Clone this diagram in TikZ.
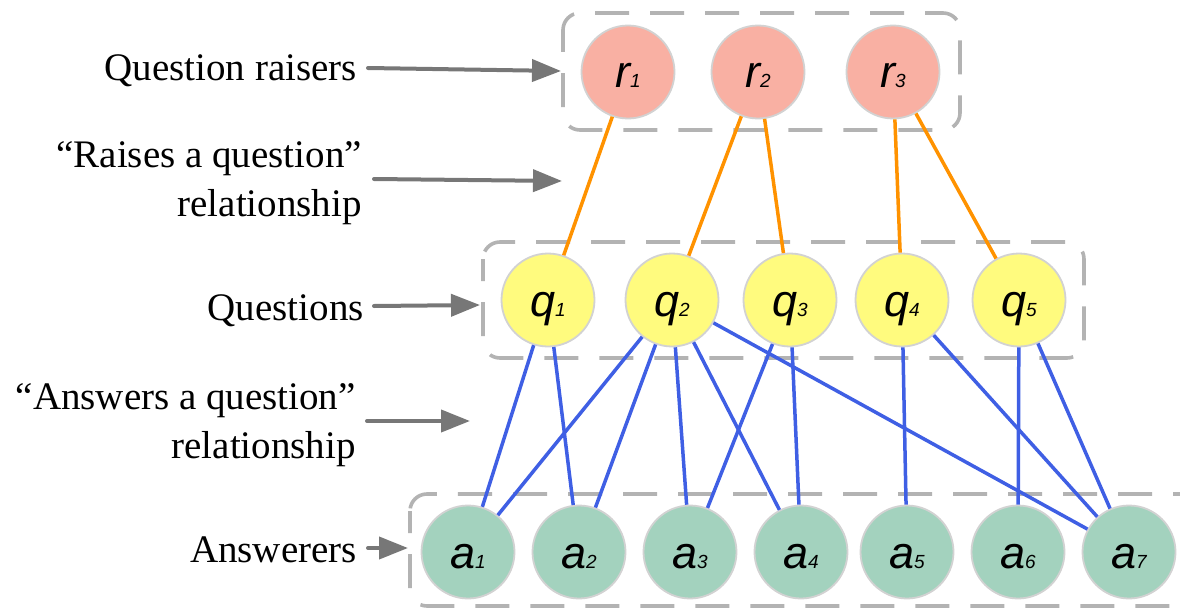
\documentclass[tikz,border=0pt]{standalone}
\usepackage{fontspec}
\setmainfont{Liberation Serif}
\newfontfamily\nodefont{Liberation Sans}
\usetikzlibrary{arrows.meta}

\definecolor{raiserfill}{HTML}{F9B0A3}
\definecolor{questionfill}{HTML}{FFFB7E}
\definecolor{answererfill}{HTML}{A3D2BE}
\definecolor{nodeedge}{HTML}{D2D2D2}
\definecolor{groupedge}{HTML}{B3B3B3}
\definecolor{raiseline}{HTML}{FF9200}
\definecolor{answerline}{HTML}{3F5FE4}
\definecolor{pointer}{HTML}{777777}

% letter with a small italic index at the same baseline
\newcommand\vlabel[2]{#1{\fontsize{19}{19}\selectfont #2}}

\tikzset{
  member/.style={circle, minimum size=93pt, inner sep=0pt, draw=nodeedge,
    line width=1.8pt, text height=32pt, text depth=0pt,
    font=\nodefont\itshape\fontsize{45}{45}\selectfont},
  raiser/.style={member, fill=raiserfill},
  question/.style={member, fill=questionfill},
  answerer/.style={member, fill=answererfill},
  groupbox/.style={draw=groupedge, line width=3.6pt, rounded corners=17pt,
    dash pattern=on 34pt off 21pt, dash phase=12pt},
  raises/.style={draw=raiseline, line width=3.5pt},
  answers/.style={draw=answerline, line width=3.5pt},
  pointer/.style={draw=pointer, line width=4pt, line cap=round,
    -{Triangle[length=29pt,width=22pt]}},
  caption/.style={inner sep=0pt, font=\fontsize{39}{49}\selectfont},
}

\begin{document}
\begin{tikzpicture}[x=1pt, y=-1pt]
  \useasboundingbox (0,0) rectangle (1180,610);
  \clip (0,0) rectangle (1180,610);

  % group frames
  \draw[groupbox] (563,13) rectangle (960,130);
  \draw[groupbox] (483,242) rectangle (1084,358);
  \draw[groupbox] (410,494) rectangle (1205,606);

  % question raisers
  \node[raiser] (r1) at (628,72) {\vlabel{r}{1}};
  \node[raiser] (r2) at (758,72) {\vlabel{r}{2}};
  \node[raiser] (r3) at (893,72) {\vlabel{r}{3}};

  % questions
  \node[question] (q1) at (548,300) {\vlabel{q}{1}};
  \node[question] (q2) at (672,300) {\vlabel{q}{2}};
  \node[question] (q3) at (790,300) {\vlabel{q}{3}};
  \node[question] (q4) at (902,300) {\vlabel{q}{4}};
  \node[question] (q5) at (1019,300) {\vlabel{q}{5}};

  % answerers
  \node[answerer] (a1) at (468,552) {\vlabel{a}{1}};
  \node[answerer] (a2) at (579,552) {\vlabel{a}{2}};
  \node[answerer] (a3) at (690,552) {\vlabel{a}{3}};
  \node[answerer] (a4) at (801,552) {\vlabel{a}{4}};
  \node[answerer] (a5) at (907,552) {\vlabel{a}{5}};
  \node[answerer] (a6) at (1018,552) {\vlabel{a}{6}};
  \node[answerer] (a7) at (1129,552) {\vlabel{a}{7}};

  % "raises a question" edges
  \draw[raises] (r1) -- (q1);
  \draw[raises] (r2) -- (q2);
  \draw[raises] (r2) -- (q3);
  \draw[raises] (r3) -- (q4);
  \draw[raises] (r3) -- (q5);

  % "answers a question" edges
  \draw[answers] (q1) -- (a1);
  \draw[answers] (q1) -- (a2);
  \draw[answers] (q2) -- (a1);
  \draw[answers] (q2) -- (a2);
  \draw[answers] (q2) -- (a3);
  \draw[answers] (q2) -- (a4);
  \draw[answers] (q2) -- (a7);
  \draw[answers] (q3) -- (a3);
  \draw[answers] (q3) -- (a4);
  \draw[answers] (q4) -- (a5);
  \draw[answers] (q4) -- (a7);
  \draw[answers] (q5) -- (a6);
  \draw[answers] (q5) -- (a7);

  % captions on the left
  \node[caption, anchor=base east] (tr) at (357,81) {Question raisers};
  \node[caption, anchor=east, align=right] (trq) at (362,183)
    {“Raises a question”\\relationship};
  \node[caption, anchor=base east] (tq) at (364,320) {Questions};
  \node[caption, anchor=east, align=right] (taq) at (356,425)
    {“Answers a question”\\relationship};
  \node[caption, anchor=base east] (ta) at (357,562) {Answerers};

  % pointers from captions to the layers
  \coordinate (sr) at (368,68);   \coordinate (pr) at (561,71);
  \coordinate (srq) at (374,179); \coordinate (prq) at (562,181);
  \coordinate (sq) at (374,306);  \coordinate (pq) at (480,305);
  \coordinate (saq) at (367,421); \coordinate (paq) at (470,421);
  \coordinate (sa) at (368,548);  \coordinate (pa) at (408,548);
  \draw[pointer] (sr) -- (pr);
  \draw[pointer] (srq) -- (prq);
  \draw[pointer] (sq) -- (pq);
  \draw[pointer] (saq) -- (paq);
  \draw[pointer] (sa) -- (pa);
\end{tikzpicture}
\end{document}
